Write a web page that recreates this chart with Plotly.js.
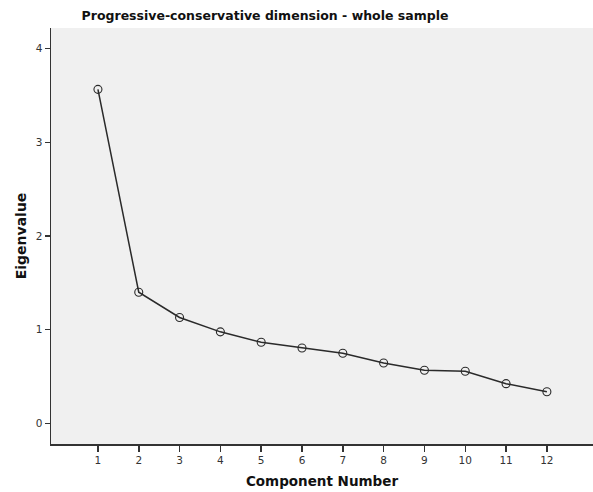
<!DOCTYPE html>
<html>
<head>
<meta charset="utf-8">
<script src="https://cdn.plot.ly/plotly-3.0.1.min.js"></script>
<style>html,body{margin:0;padding:0;background:#fff;}#chart{width:593px;height:492px;}</style>
</head>
<body>
<div id="chart"></div>
<script>
const componentNumbers = [1, 2, 3, 4, 5, 6, 7, 8, 9, 10, 11, 12];
const eigenvalues = [3.565, 1.40, 1.13, 0.977, 0.866, 0.805, 0.749, 0.645, 0.567, 0.556, 0.424, 0.338];
const yTickValues = [0, 1, 2, 3, 4];

const trace = {
  x: componentNumbers,
  y: eigenvalues,
  type: 'scatter',
  mode: 'lines+markers',
  line: {color: '#2a2a2a', width: 1.5},
  marker: {symbol: 'circle-open', size: 8, color: '#2a2a2a', line: {width: 1.1, color: '#2a2a2a'}},
  cliponaxis: false,
  hoverinfo: 'skip'
};

const layout = {
  width: 593,
  height: 492,
  margin: {l: 51, r: 0, t: 28, b: 48},
  paper_bgcolor: '#ffffff',
  plot_bgcolor: '#f0f0f0',
  showlegend: false,
  font: {family: 'DejaVu Sans, sans-serif', color: '#333'},
  title: {
    text: 'Progressive-conservative dimension - whole sample',
    font: {family: 'DejaVu Sans, sans-serif', size: 12.5, color: '#111', weight: 'bold'},
    x: 265 / 593, xanchor: 'center', xref: 'container',
    y: 1 - 16 / 492, yanchor: 'middle', yref: 'container'
  },
  xaxis: {
    range: [-0.15, 13.13],
    tickvals: componentNumbers,
    ticktext: componentNumbers.map(String),
    ticks: 'outside', ticklen: 6, tickwidth: 1.5, tickcolor: '#333',
    showgrid: false, zeroline: false,
    showline: true, linecolor: '#333', linewidth: 1.5,
    tickfont: {size: 10.5, color: '#333'},
    title: {text: 'Component Number', font: {size: 13.5, color: '#111', weight: 'bold'}, standoff: 11}
  },
  yaxis: {
    range: [-0.22, 4.22],
    tickvals: yTickValues,
    ticks: 'outside', ticklen: 5, tickwidth: 1.5, tickcolor: '#333',
    showgrid: false, zeroline: false,
    showline: true, linecolor: '#333', linewidth: 1.5,
    tickfont: {size: 10.5, color: '#333'},
    title: {text: 'Eigenvalue', font: {size: 14, color: '#111', weight: 'bold'}, standoff: 6}
  }
};

Plotly.newPlot('chart', [trace], layout, {displayModeBar: false, staticPlot: true});
</script>
</body>
</html>
